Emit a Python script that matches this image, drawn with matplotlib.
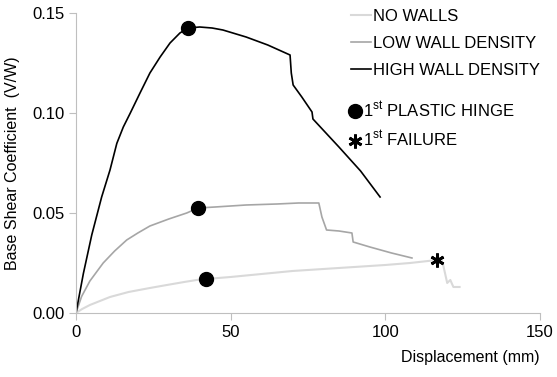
import matplotlib
matplotlib.use('Agg')
import matplotlib.pyplot as plt
from matplotlib.lines import Line2D

plt.rcParams['font.family'] = ['Liberation Sans', 'DejaVu Sans']
plt.rcParams['mathtext.fontset'] = 'custom'
plt.rcParams['mathtext.rm'] = 'Liberation Sans'

# pushover curves (displacement mm, base shear coefficient)
no_walls_x = [0, 2, 4.5, 11, 17, 23.9, 29.4, 35, 39, 42, 50, 60, 70, 80, 90, 100, 108, 115,
              116.7, 118, 118.7, 120, 121, 122, 124]
no_walls_y = [0, 0.002, 0.004, 0.008, 0.0105, 0.0125, 0.014, 0.0155, 0.0165, 0.017, 0.018,
              0.0195, 0.021, 0.022, 0.023, 0.024, 0.025, 0.0262, 0.0265, 0.027, 0.024,
              0.015, 0.0165, 0.013, 0.013]

low_x = [0, 1.8, 4.5, 8.8, 12.5, 16.4, 20, 23.9, 30, 35.8, 39.5, 45, 55, 65, 72, 78.5,
         79.5, 81, 85, 89.2, 89.6, 95, 102, 108.6]
low_y = [0, 0.0082, 0.016, 0.025, 0.031, 0.0365, 0.040, 0.0435, 0.047, 0.050, 0.0525,
         0.053, 0.054, 0.0545, 0.055, 0.055, 0.048, 0.0415, 0.041, 0.040, 0.0355, 0.033,
         0.030, 0.0275]

high_x = [0, 2.4, 5.1, 8.3, 11, 13.2, 15.3, 17.5, 20.7, 23.9, 27.2, 30.4, 33.6, 36.2, 40,
          44, 47.5, 55, 62, 69.2, 69.6, 70.2, 73, 76.3, 76.6, 85, 92, 98.3]
high_y = [0, 0.0198, 0.039, 0.058, 0.0715, 0.0848, 0.093, 0.0998, 0.110, 0.120, 0.128,
          0.135, 0.140, 0.1425, 0.143, 0.1425, 0.1415, 0.138, 0.134, 0.129, 0.12, 0.114,
          0.108, 0.1005, 0.097, 0.083, 0.071, 0.058]

hinge_x = [36.2, 39.5, 42]
hinge_y = [0.1425, 0.0525, 0.017]
failure_x = [116.7]
failure_y = [0.0265]

fig = plt.figure(figsize=(5.57, 3.77), dpi=100)
ax = fig.add_axes([0.1364, 0.1698, 0.8331, 0.7957])

l1, = ax.plot(no_walls_x, no_walls_y, color='#d9d9d9', lw=1.5, label='NO WALLS')
l2, = ax.plot(low_x, low_y, color='#a6a6a6', lw=1.2, label='LOW WALL DENSITY')
l3, = ax.plot(high_x, high_y, color='black', lw=1.2, label='HIGH WALL DENSITY')
ax.plot(hinge_x, hinge_y, 'o', color='black', ms=10, ls='none')
ax.plot(failure_x, failure_y, marker=(6, 2, 0), color='black', ms=10, mew=2, ls='none')

ax.set_xlim(0, 150)
ax.set_ylim(0, 0.15)
ax.set_xticks([0, 50, 100, 150])
ax.set_yticks([0, 0.05, 0.10, 0.15])
ax.set_yticklabels(['0.00', '0.05', '0.10', '0.15'])
for s in ['top', 'right']:
    ax.spines[s].set_visible(False)
for s in ['left', 'bottom']:
    ax.spines[s].set_color('#bfbfbf')
ax.tick_params(colors='#bfbfbf', labelcolor='black', labelsize=12, length=5)

ax.set_xlabel('Displacement (mm)', loc='right', fontsize=11.5, labelpad=7)
ax.set_ylabel('Base Shear Coefficient  (V/W)', fontsize=11.5)
ax.yaxis.set_label_coords(-0.121, 0.5)

fig.legend(handles=[l1, l2, l3], loc='upper left', bbox_to_anchor=(0.619, 0.995),
           frameon=False, handlelength=1.2, handletextpad=0.1, labelspacing=0.72,
           borderaxespad=0, fontsize=12)
h1 = Line2D([], [], marker='o', color='black', ms=10, ls='none')
h2 = Line2D([], [], marker=(6, 2, 0), color='black', ms=10, mew=2, ls='none')
fig.legend(handles=[h1, h2], labels=['1$^{\\mathrm{st}}$ PLASTIC HINGE', '1$^{\\mathrm{st}}$ FAILURE'],
           loc='upper left', bbox_to_anchor=(0.613, 0.753), frameon=False,
           handlelength=0.8, handletextpad=0.08, labelspacing=0.55,
           borderaxespad=0, fontsize=12)

fig.savefig('out.png', dpi=100)
